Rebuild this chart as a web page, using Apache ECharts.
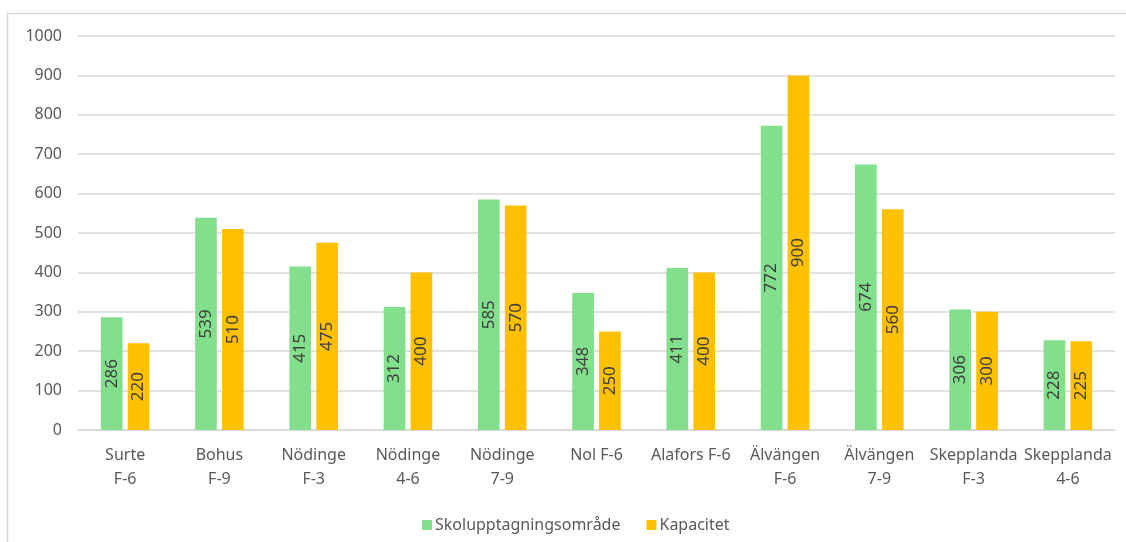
<!DOCTYPE html>
<html>
<head>
<meta charset="utf-8">
<script src="https://cdn.jsdelivr.net/npm/echarts@6/dist/echarts.min.js"></script>
<style>
html,body{margin:0;padding:0;background:#fff;}
#chart{width:1126px;height:542px;}
</style>
</head>
<body>
<div id="chart"></div>
<script>
const categories = ['Surte\nF-6','Bohus\nF-9','Nödinge\nF-3','Nödinge\n4-6','Nödinge\n7-9','Nol F-6','Alafors F-6','Älvängen\nF-6','Älvängen\n7-9','Skepplanda\nF-3','Skepplanda\n4-6'];
const seriesNames = ['Skolupptagningsområde','Kapacitet'];
const skolupptagning = [286,539,415,312,585,348,411,772,674,306,228];
const kapacitet = [220,510,475,400,570,250,400,900,560,300,225];
const yTicks = {min:0, max:1000, interval:100};

const FONT = '"Noto Sans", "Liberation Sans", sans-serif';
const chart = echarts.init(document.getElementById('chart'), null, {renderer:'canvas'});
const labelCfg = {
  show:true, position:'inside', rotate:90, color:'#404040',
  fontSize:17, fontFamily:FONT
};
chart.setOption({
  animation:false,
  backgroundColor:'#fff',
  graphic:[{type:'rect', shape:{x:7.5,y:13.5,width:1130,height:540}, style:{fill:'none',stroke:'#d9d9d9',lineWidth:1.5}, z:-1}],
  grid:{left:78, right:11, top:36, bottom:112},
  legend:{
    left:417, top:512, itemWidth:10, itemHeight:10, itemGap:26,
    icon:'rect',
    textStyle:{color:'#595959', fontSize:16, fontFamily:FONT, padding:[0,0,0,-2]},
    data:seriesNames
  },
  xAxis:{
    type:'category', data:categories,
    axisLine:{show:true, lineStyle:{color:'#d9d9d9', width:1.5}},
    axisTick:{show:false},
    axisLabel:{interval:0, color:'#595959', fontSize:16, fontFamily:FONT, lineHeight:24, margin:13}
  },
  yAxis:{
    type:'value', min:yTicks.min, max:yTicks.max, interval:yTicks.interval,
    axisLine:{show:false}, axisTick:{show:false},
    splitLine:{lineStyle:{color:'#d9d9d9', width:1.5}},
    axisLabel:{color:'#595959', fontSize:16, fontFamily:FONT, margin:16, formatter:v=>String(v)}
  },
  series:[
    {name:seriesNames[0], type:'bar', data:skolupptagning, barWidth:'23%', barGap:'24%',
     itemStyle:{color:'#82E08C'}, label:labelCfg},
    {name:seriesNames[1], type:'bar', data:kapacitet, barWidth:'23%',
     itemStyle:{color:'#FFC000'}, label:labelCfg}
  ]
});
</script>
</body>
</html>
